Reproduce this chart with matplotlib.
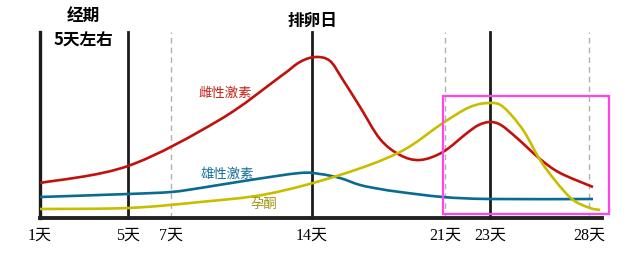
import numpy as np
import matplotlib
matplotlib.use('Agg')
import matplotlib.pyplot as plt
from matplotlib.patches import Rectangle, PathPatch
from matplotlib.path import Path

plt.rcParams['font.family'] = ['Noto Sans CJK SC', 'DejaVu Sans']

# cycle days and where they sit on the drawing (the sketch is not evenly spaced)
tick_days = [1, 5, 7, 14, 21, 23, 28]
tick_labels = ['1天', '5天', '7天', '14天', '21天', '23天', '28天']
solid_days = [5, 14, 23]
dashed_days = [7, 21, 28]
anchor_days = [0, 1, 5, 7, 14, 21, 23, 28, 29]
anchor_pos = [18, 40, 128, 171, 312, 445, 490, 589, 609]

# hormone levels (arbitrary units)
estro_day = [1, 5, 9.4, 12.4, 13.4, 14.2, 14.95, 15.6, 16.53, 17.58, 18.63, 19.68,
             20.89, 21.98, 22.5, 23, 23.55, 24.36, 25.53, 26.54, 28.2]
estro_val = [35, 52, 98, 141, 156, 161, 157, 139, 111, 79, 63, 58,
             66, 85, 93, 96, 93, 80, 59, 45, 31]

andro_day = [1, 5, 7, 8.45, 10.93, 13.4, 14.42, 15.47, 16.53, 17.58, 18.63,
             20.89, 23, 28.2]
andro_val = [21, 24, 26, 30, 38, 45, 44, 40, 33, 29, 26,
             21, 19, 19]

proge_day = [1, 5, 8.45, 11.78, 15.47, 18.63, 20.89, 22.11, 23, 23.67, 24.67,
             25.53, 26.39, 27.2, 28.05, 28.56]
proge_val = [9, 10, 16, 24, 43, 66, 95, 111, 115, 111, 88,
             58, 35, 18, 10, 8]


def pos(d):
    # day -> horizontal position on the sketch
    return np.interp(d, anchor_days, anchor_pos)


def smooth_path(xs, ys):
    # Catmull-Rom through the read points, drawn as cubic Bezier segments
    pts = np.column_stack([pos(xs), ys]).astype(float)
    pad = np.vstack([pts[0], pts, pts[-1]])
    verts = [pts[0]]
    codes = [Path.MOVETO]
    for i in range(1, len(pad) - 2):
        p0, p1, p2, p3 = pad[i - 1], pad[i], pad[i + 1], pad[i + 2]
        verts += [p1 + (p2 - p0) / 6, p2 - (p3 - p1) / 6, p2]
        codes += [Path.CURVE4] * 3
    return Path(verts, codes)


fig = plt.figure(figsize=(6.4, 2.56), dpi=100)
ax = fig.add_axes([40 / 640, 38 / 256, 562 / 640, 186 / 256])
ax.set_xlim(pos(1), pos(28.65))
ax.set_ylim(0, 186)

red = '#c0120c'
blue = '#0a6b92'
yellow = '#c9bd00'

for d in solid_days:
    ax.plot([pos(d)] * 2, [0, 186], color='#1c1c1c', lw=2.0, zorder=2, clip_on=False)
for d in dashed_days:
    ax.plot([pos(d)] * 2, [0, 186], color='#b0b0b0', lw=1.0, ls=(0, (4, 3)), zorder=1, clip_on=False)

for xs, ys, c in [(estro_day, estro_val, red), (andro_day, andro_val, blue),
                  (proge_day, proge_val, yellow)]:
    ax.add_patch(PathPatch(smooth_path(xs, ys), facecolor='none', edgecolor=c,
                           lw=1.9, zorder=3, capstyle='butt'))

# highlight box around the luteal peak
x0, x1 = pos(20.9), pos(28.98)
ax.add_patch(Rectangle((x0, 4), x1 - x0, 122 - 4, fill=False,
                       edgecolor='#ff44ee', lw=1.6, zorder=4, clip_on=False))

ax.text(pos(9.7), 125, '雌性激素', color='#c0241a', fontsize=9.6, ha='center', va='center')
ax.text(pos(9.8), 44, '雄性激素', color='#186f98', fontsize=9.6, ha='center', va='center')
ax.text(pos(11.6), 14, '孕酮', color='#a39312', fontsize=9.6, ha='center', va='center')

for s in ['top', 'right']:
    ax.spines[s].set_visible(False)
ax.spines['left'].set_linewidth(2.4)
ax.spines['bottom'].set_linewidth(2.8)
ax.spines['left'].set_color('#1c1c1c')
ax.spines['bottom'].set_color('#222222')
ax.set_yticks([])
ax.set_xticks(pos(tick_days))
ax.set_xticklabels(tick_labels, fontsize=11.5, family=['Liberation Serif', 'Noto Sans CJK SC'])
ax.tick_params(axis='x', length=0, pad=7)
ax.patch.set_alpha(0)

fig.text(83 / 640, 1 - 16 / 256, '经期', fontsize=12, fontweight='bold', ha='center', va='center')
fig.text(83 / 640, 1 - 41 / 256, '5天左右', fontsize=12, fontweight='bold', ha='center', va='center')
fig.text(312 / 640, 1 - 21 / 256, '排卵日', fontsize=12, fontweight='bold', ha='center', va='center')

fig.savefig('out.png', dpi=100)
